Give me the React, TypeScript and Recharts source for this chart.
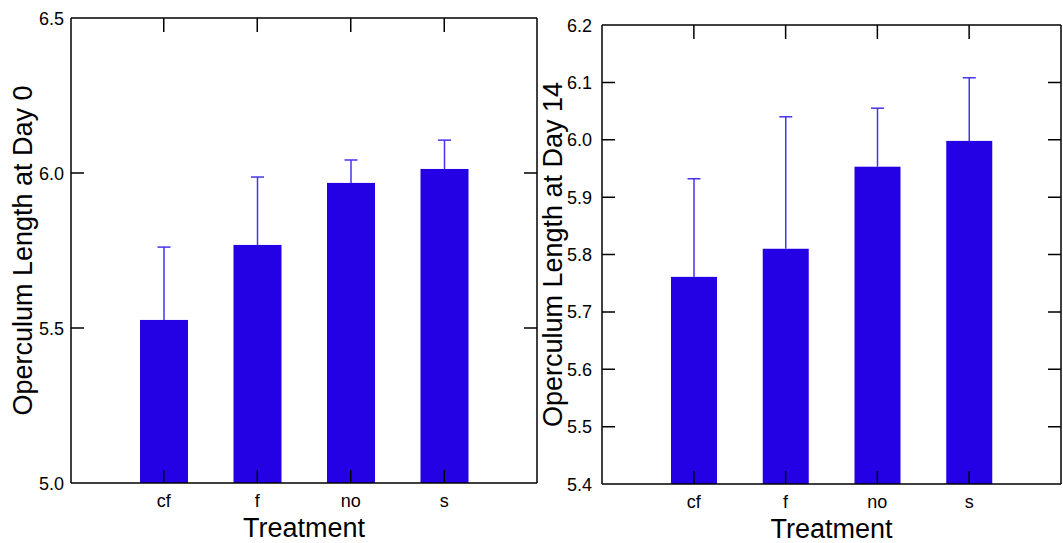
import React from 'react';
import { BarChart, Bar, XAxis, YAxis, ReferenceLine } from 'recharts';

const categories = ['cf', 'f', 'no', 's'];
const day0Means = [5.526, 5.768, 5.968, 6.013];
const day0Errors = [0.235, 0.219, 0.074, 0.093];
const day14Means = [5.761, 5.81, 5.953, 5.998];
const day14Errors = [0.171, 0.23, 0.102, 0.11];
const day0Ticks = [5.0, 5.5, 6.0, 6.5];
const day14Ticks = [5.4, 5.5, 5.6, 5.7, 5.8, 5.9, 6.0, 6.1, 6.2];

const FONT = 'Arial, "Liberation Sans", sans-serif';
const BAR_COLOR = '#2400e4';
const ERR_COLOR = '#4533ee';
const AXIS = { stroke: '#000', strokeWidth: 1.5 };

interface PanelProps {
  means: number[];
  errors: number[];
  ticks: number[];
  yLabel: string;
  width: number;
  left: number;
  plotLeft: number;
  plotTop: number;
  plotBottom: number;
  plotRight: number;
  barSize: number;
  labelX: number;
  tickGap: number;
}

const Panel: React.FC<PanelProps> = ({
  means,
  errors,
  ticks,
  yLabel,
  width,
  left,
  plotLeft,
  plotTop,
  plotBottom,
  plotRight,
  barSize,
  labelX,
  tickGap,
}) => {
  const data = categories.map((name, i) => ({ name, value: means[i], err: errors[i] }));
  const height = 543;
  const domain: [number, number] = [ticks[0], ticks[ticks.length - 1]];
  const plotW = plotRight - plotLeft;

  const leftTick = (p: any) => (
    <text
      x={plotLeft - tickGap}
      y={p.payload.coordinate}
      dy={6.5}
      textAnchor="end"
      fontSize={18}
      fontFamily={FONT}
      fill="#000"
    >
      {Number(p.payload.value).toFixed(1)}
    </text>
  );
  const bottomTick = (p: any) => {
    const x = p.payload.coordinate;
    return (
      <g>
        <line x1={x} x2={x} y1={plotBottom - 13} y2={plotBottom} {...AXIS} />
        <text x={x} y={plotBottom + 24} textAnchor="middle" fontSize={18} fontFamily={FONT} fill="#000">
          {p.payload.value}
        </text>
      </g>
    );
  };
  const topTick = (p: any) => {
    const x = p.payload.coordinate;
    return <line x1={x} x2={x} y1={plotTop} y2={plotTop + 14} {...AXIS} />;
  };

  // bar plus an upward-only whisker; whisker length uses the bar's own px-per-unit
  const barShape = (p: any) => {
    const { x, y, width: w, height: h, payload } = p;
    const pxPerUnit = h / (payload.value - domain[0]);
    const top = y - payload.err * pxPerUnit;
    const cx = x + w / 2;
    return (
      <g>
        <rect x={x} y={y} width={w} height={h} fill={BAR_COLOR} />
        <line x1={cx} x2={cx} y1={y} y2={top} stroke={ERR_COLOR} strokeWidth={1.5} />
        <line x1={cx - 6.5} x2={cx + 6.5} y1={top} y2={top} stroke={ERR_COLOR} strokeWidth={1.5} />
      </g>
    );
  };

  return (
    <div style={{ position: 'absolute', left, top: 0 }}>
      <BarChart
        width={width}
        height={height}
        data={data}
        margin={{ top: plotTop - 1, left: 0, right: width - plotRight - 1, bottom: height - plotBottom - 60 }}
      >
        <XAxis
          dataKey="name"
          height={60}
          padding={{ left: 46, right: 46 }}
          axisLine={AXIS}
          tickLine={false}
          tick={bottomTick}
          label={{
            value: 'Treatment',
            position: 'insideBottom',
            offset: 6,
            style: { fontSize: 27, fill: '#000', fontFamily: FONT },
          }}
        />
        <XAxis
          xAxisId="top"
          orientation="top"
          dataKey="name"
          height={1}
          padding={{ left: 46, right: 46 }}
          axisLine={AXIS}
          tickLine={false}
          tick={topTick}
        />
        <YAxis
          type="number"
          domain={domain}
          ticks={ticks}
          width={plotLeft}
          interval={0}
          axisLine={AXIS}
          tickLine={false}
          tick={leftTick}
          label={{
            value: yLabel,
            angle: -90,
            position: 'insideLeft',
            offset: labelX,
            style: { textAnchor: 'middle', fontSize: 27, fill: '#000', fontFamily: FONT },
          }}
        />
        <YAxis
          yAxisId="right"
          orientation="right"
          type="number"
          domain={domain}
          ticks={ticks}
          width={1}
          axisLine={AXIS}
          tickLine={false}
          tick={false}
        />
        {/* inward ticks on both sides: a dashed line across the plot, dash only at the ends */}
        {ticks.slice(1, -1).map((t) => (
          <ReferenceLine
            key={t}
            y={t}
            stroke="#000"
            strokeWidth={1.5}
            strokeDasharray={`13 ${plotW - 26} 13`}
          />
        ))}
        <Bar dataKey="value" barSize={barSize} shape={barShape} isAnimationActive={false} />
      </BarChart>
    </div>
  );
};

export default function App() {
  return (
    <div style={{ position: 'absolute', left: 0, top: 0, width: 1063, height: 543, background: '#fff' }}>
      <Panel
        means={day0Means}
        errors={day0Errors}
        ticks={day0Ticks}
        yLabel="Operculum Length at Day 0"
        width={545}
        left={0}
        plotLeft={71}
        plotTop={18}
        plotBottom={483}
        plotRight={537}
        barSize={48}
        labelX={22}
        tickGap={7}
      />
      <Panel
        means={day14Means}
        errors={day14Errors}
        ticks={day14Ticks}
        yLabel="Operculum Length at Day 14"
        width={533}
        left={530}
        plotLeft={72}
        plotTop={25}
        plotBottom={484}
        plotRight={531}
        barSize={46}
        labelX={22}
        tickGap={10}
      />
    </div>
  );
}
